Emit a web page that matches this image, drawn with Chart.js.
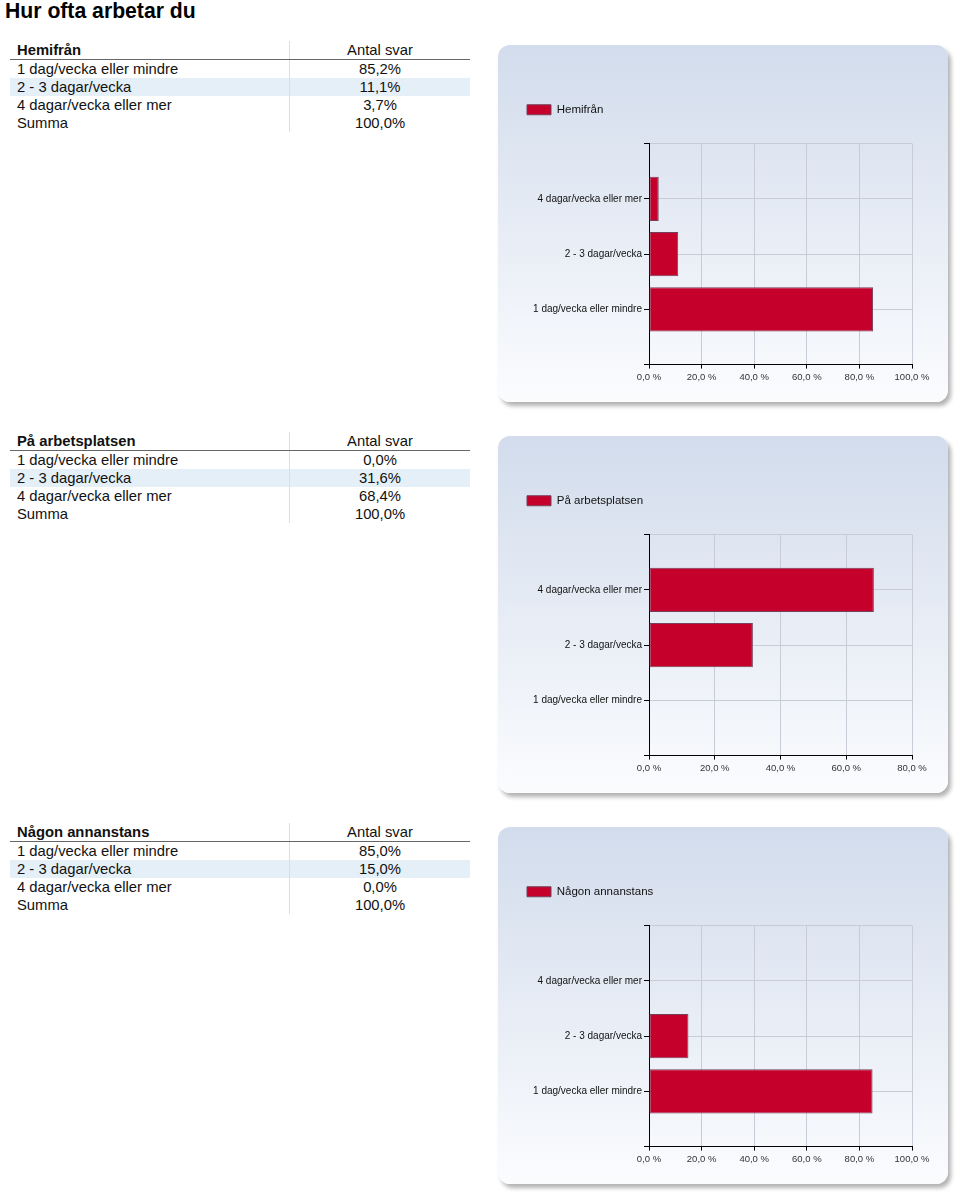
<!DOCTYPE html>
<html>
<head>
<meta charset="utf-8">
<script src="https://cdn.jsdelivr.net/npm/chart.js@4"></script>
<style>
  body { margin: 0; background: #fff; font-family: "Liberation Sans", Arial, sans-serif; width: 960px; height: 1198px; position: relative; overflow: hidden; }
  h1 { position: absolute; left: 5px; top: 1px; margin: 0; font-size: 21.2px; line-height: 20px; font-weight: bold; color: #000; }
  .tbl { position: absolute; left: 10px; width: 460px; border-collapse: collapse; font-size: 14.8px; color: #111; }
  .tbl td { height: 18px; padding: 0 0 0 7px; line-height: 18px; white-space: nowrap; }
  .tbl td.v { text-align: center; padding: 0; width: 180px; border-left: 1px solid #dedede; }
  .tbl tr.head td { border-bottom: 1px solid #666; }
  .tbl tr.head td.lbl { font-weight: bold; }
  .tbl tr.alt td { background: #e5eff8; }
  .panel { position: absolute; left: 498px; width: 450px; height: 357px; border-radius: 12px;
           background: linear-gradient(#d2dcec, #fbfcfe); box-shadow: 3px 4px 4px rgba(0,0,0,0.3); }
  .panel canvas { position: absolute; left: 0; top: 0; }
</style>
</head>
<body>
<h1>Hur ofta arbetar du</h1>
<div id="root"></div>
<script>
// svarskategorier och andelar (%)
const categories = ['1 dag/vecka eller mindre', '2 - 3 dagar/vecka', '4 dagar/vecka eller mer'];
const seriesNames = ['Hemifrån', 'På arbetsplatsen', 'Någon annanstans'];
const hemifran = [85.2, 11.1, 3.7];
const arbetsplatsen = [0.0, 31.6, 68.4];
const annanstans = [85.0, 15.0, 0.0];
const axisMax = [100, 80, 100];
const headerText = 'Antal svar';
const sumLabel = 'Summa';

const allValues = [hemifran, arbetsplatsen, annanstans];
const fmt = (v) => v.toFixed(1).replace('.', ',');

// lite extra luft under legenden
const legendGap = {
    id: 'legendGap',
    beforeInit(chart) {
        const fit = chart.legend.fit;
        chart.legend.fit = function () {
            fit.call(this);
            this.height += 18;
        };
    }
};

const root = document.getElementById('root');

seriesNames.forEach((name, i) => {
    const values = allValues[i];
    const sum = values.reduce((a, b) => a + b, 0);

    // tabell
    const tbl = document.createElement('table');
    tbl.className = 'tbl';
    tbl.style.top = (41 + i * 391) + 'px';
    let html = '<tr class="head"><td class="lbl">' + name + '</td><td class="v">' + headerText + '</td></tr>';
    categories.forEach((c, j) => {
        html += '<tr' + (j === 1 ? ' class="alt"' : '') + '><td>' + c + '</td><td class="v">' + fmt(values[j]) + '%</td></tr>';
    });
    html += '<tr><td>' + sumLabel + '</td><td class="v">' + fmt(sum) + '%</td></tr>';
    tbl.innerHTML = html;
    root.appendChild(tbl);

    // diagram
    const panel = document.createElement('div');
    panel.className = 'panel';
    panel.style.top = (45 + i * 391) + 'px';
    const canvas = document.createElement('canvas');
    canvas.width = 450;
    canvas.height = 357;
    panel.appendChild(canvas);
    root.appendChild(panel);

    new Chart(canvas, {
        type: 'bar',
        data: {
            datasets: [{
                label: name,
                data: categories.map((c, j) => ({ x: values[j], y: j + 1 })),
                backgroundColor: '#c4002b',
                borderColor: '#74405a',
                borderWidth: 1,
                borderSkipped: false,
                barPercentage: 0.8,
                categoryPercentage: 1
            }]
        },
        options: {
            indexAxis: 'y',
            responsive: false,
            animation: false,
            layout: { padding: { left: 19, top: 49, right: 36, bottom: 16 } },
            plugins: {
                tooltip: { enabled: false },
                legend: {
                    position: 'top',
                    align: 'start',
                    labels: {
                        boxWidth: 24,
                        boxHeight: 10,
                        padding: 10,
                        color: '#111',
                        font: { family: 'Liberation Sans, Arial', size: 11.5 }
                    }
                }
            },
            scales: {
                x: {
                    type: 'linear',
                    min: 0,
                    max: axisMax[i],
                    ticks: {
                        stepSize: 20,
                        maxRotation: 0,
                        padding: 3,
                        color: '#333',
                        font: { family: 'Liberation Sans, Arial', size: 9.5 },
                        callback: (v) => fmt(v) + ' %'
                    },
                    grid: { color: '#c8ccd6', tickColor: '#000', tickLength: 4 },
                    border: { color: '#000', width: 1 }
                },
                y: {
                    type: 'linear',
                    min: 0,
                    max: 4,
                    offset: false,
                    afterFit: (scale) => { scale.width = 132; },
                    ticks: {
                        stepSize: 1,
                        autoSkip: false,
                        padding: 2,
                        color: '#111',
                        font: { family: 'Liberation Sans, Arial', size: 10 },
                        callback: (v) => categories[v - 1] || ''
                    },
                    grid: { offset: false, color: '#c8ccd6', tickColor: '#000', tickLength: 5 },
                    border: { color: '#000', width: 1 }
                }
            }
        },
        plugins: [legendGap]
    });
});
</script>
</body>
</html>
